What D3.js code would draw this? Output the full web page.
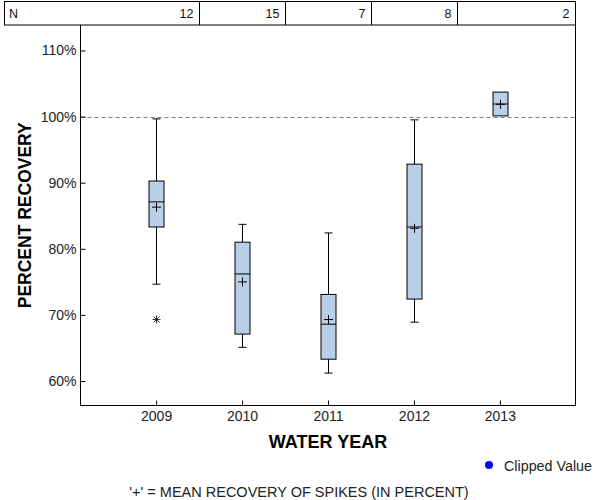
<!DOCTYPE html>
<html>
<head>
<meta charset="utf-8">
<script src="https://cdn.jsdelivr.net/npm/d3@7"></script>
<style>
  body { margin: 0; background: #fff; }
  svg { display: block; font-family: "Liberation Sans", Arial, sans-serif; }
</style>
</head>
<body>
<svg id="chart" width="600" height="500"></svg>
<script>
const years = [2009, 2010, 2011, 2012, 2013];
const nCounts = [12, 15, 7, 8, 2];
const whiskerHigh = [99.65, 83.7, 82.4, 99.5, null];
const q3 = [90.25, 81.0, 73.1, 92.8, 103.7];
const median = [87.1, 76.2, 68.6, 83.3, 101.9];
const mean = [86.3, 75.0, 69.3, 83.1, 101.85];
const q1 = [83.3, 67.1, 63.3, 72.4, 100.1];
const whiskerLow = [74.65, 65.1, 61.2, 68.9, null];
const outlierYears = [2009];
const outlierValues = [69.35];
const yTicks = [60, 70, 80, 90, 100, 110];
const refValue = 100;

(function () {
const svg = d3.select("#chart");
const pL = 80.5, pR = 575.5, pT = 25, pB = 405.5;

const x = d3.scaleLinear().domain([2008.12, 2013.88]).range([pL, pR]);
const y = d3.scaleLinear().domain([56.3, 113.85]).range([pB, pT]);

// N table
const tableTop = 1.5;
svg.append("rect").attr("x", 4.5).attr("y", tableTop).attr("width", pR - 4.5).attr("height", pT - tableTop)
  .attr("fill", "none").attr("stroke", "#000").attr("stroke-width", 1);
const dividers = years.slice(0, -1).map((yr, i) => Math.round((x(yr) + x(years[i + 1])) / 2) + 0.5);
svg.selectAll("line.div").data(dividers).enter().append("line")
  .attr("x1", d => d).attr("x2", d => d).attr("y1", tableTop).attr("y2", pT)
  .attr("stroke", "#000");
svg.append("text").attr("x", 9).attr("y", 18).attr("font-size", 12.5).attr("fill", "#111").text("N");
const cellRights = dividers.concat([pR]);
svg.selectAll("text.n").data(nCounts).enter().append("text")
  .attr("x", (d, i) => cellRights[i] - 6).attr("y", 18).attr("text-anchor", "end")
  .attr("font-size", 12.5).attr("fill", "#111").text(d => d);

// reference line
const ry = Math.round(y(refValue)) + 0.5;
svg.append("line").attr("x1", pL).attr("x2", pR).attr("y1", ry).attr("y2", ry)
  .attr("stroke", "#808080").attr("stroke-dasharray", "4,3");

// frame
svg.append("path").attr("d", `M${pL},${pT}V${pB}H${pR}V${pT}`).attr("fill", "none").attr("stroke", "#000");

// axes
const yAxis = d3.axisLeft(y).tickValues(yTicks).tickFormat(d => d + "%").tickSizeInner(-5).tickSizeOuter(0).tickPadding(4);
const gy = svg.append("g").attr("transform", `translate(${pL},0)`).call(yAxis);
gy.select(".domain").remove();
gy.selectAll("text").attr("font-size", 14).attr("font-family", "Liberation Sans, Arial, sans-serif").attr("fill", "#222");

const xAxis = d3.axisBottom(x).tickValues(years).tickFormat(d3.format("d")).tickSizeInner(-5).tickSizeOuter(0).tickPadding(6);
const gx = svg.append("g").attr("transform", `translate(0,${pB})`).call(xAxis);
gx.select(".domain").remove();
gx.selectAll("text").attr("font-size", 14).attr("font-family", "Liberation Sans, Arial, sans-serif").attr("fill", "#222");

// boxes
const bw = 15, cw = 8, mw = 4.5;
const g = svg.append("g");
years.forEach((yr, i) => {
  const cx = Math.round(x(yr)) + 0.5;
  if (whiskerHigh[i] != null) {
    g.append("line").attr("x1", cx).attr("x2", cx).attr("y1", y(whiskerHigh[i])).attr("y2", y(q3[i])).attr("stroke", "#000");
    g.append("line").attr("x1", cx - cw / 2).attr("x2", cx + cw / 2).attr("y1", y(whiskerHigh[i])).attr("y2", y(whiskerHigh[i])).attr("stroke", "#000");
  }
  if (whiskerLow[i] != null) {
    g.append("line").attr("x1", cx).attr("x2", cx).attr("y1", y(q1[i])).attr("y2", y(whiskerLow[i])).attr("stroke", "#000");
    g.append("line").attr("x1", cx - cw / 2).attr("x2", cx + cw / 2).attr("y1", y(whiskerLow[i])).attr("y2", y(whiskerLow[i])).attr("stroke", "#000");
  }
  g.append("rect").attr("x", cx - bw / 2).attr("y", y(q3[i])).attr("width", bw).attr("height", y(q1[i]) - y(q3[i]))
    .attr("fill", "#b9cfe7").attr("stroke", "#000");
  g.append("line").attr("x1", cx - bw / 2).attr("x2", cx + bw / 2).attr("y1", y(median[i])).attr("y2", y(median[i])).attr("stroke", "#000");
  const my = y(mean[i]);
  g.append("line").attr("x1", cx - mw).attr("x2", cx + mw).attr("y1", my).attr("y2", my).attr("stroke", "#000");
  g.append("line").attr("x1", cx).attr("x2", cx).attr("y1", my - mw).attr("y2", my + mw).attr("stroke", "#000");
});

// outliers (asterisk)
outlierYears.forEach((yr, k) => {
  const cx = Math.round(x(yr)) + 0.5, cy = Math.round(y(outlierValues[k])) + 0.5, r = 4;
  const d = r * 0.75;
  const p = `M${cx - r},${cy}H${cx + r}M${cx},${cy - r}V${cy + r}M${cx - d},${cy - d}L${cx + d},${cy + d}M${cx - d},${cy + d}L${cx + d},${cy - d}`;
  g.append("path").attr("d", p).attr("stroke", "#000").attr("stroke-width", 0.8).attr("fill", "none");
});

// axis titles
svg.append("text").attr("x", (pL + pR) / 2).attr("y", 448).attr("text-anchor", "middle")
  .attr("font-size", 18).attr("font-weight", "bold").attr("fill", "#000").text("WATER YEAR");
svg.append("text").attr("transform", `translate(31,${(pT + pB) / 2}) rotate(-90)`).attr("text-anchor", "middle")
  .attr("font-size", 17.5).attr("font-weight", "bold").attr("fill", "#000").text("PERCENT RECOVERY");

// legend
svg.append("circle").attr("cx", 489).attr("cy", 465).attr("r", 4).attr("fill", "#0000ff");
svg.append("text").attr("x", 504).attr("y", 471).attr("font-size", 14.3).attr("fill", "#222").text("Clipped Value");

// footer
svg.append("text").attr("x", 299).attr("y", 497).attr("text-anchor", "middle")
  .attr("font-size", 14.5).attr("fill", "#222").text("'+' = MEAN RECOVERY OF SPIKES (IN PERCENT)");
})();
</script>
</body>
</html>
